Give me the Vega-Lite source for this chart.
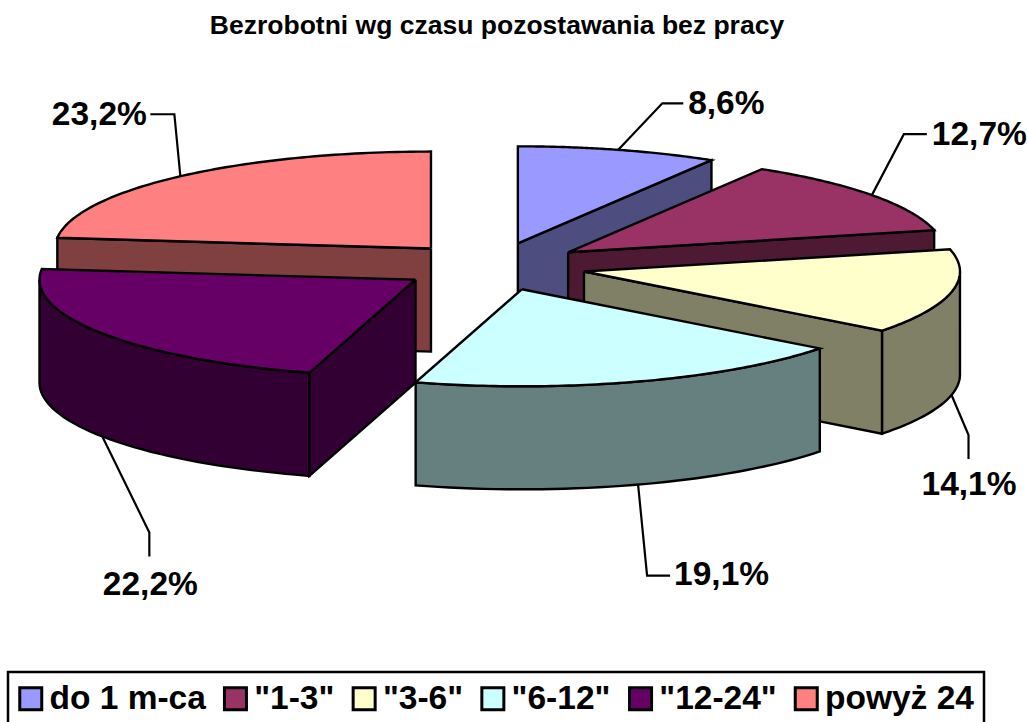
{
"$schema":"https://vega.github.io/schema/vega-lite/v6.json",
"width":1028,"height":722,"padding":0,"autosize":{"type":"none"},
"background":"white",
"title":{"text":"Bezrobotni wg czasu pozostawania bez pracy","font":"Liberation Sans","fontSize":26.5,"fontWeight":"bold","color":"black","anchor":"middle","dx":-17,"offset":-39},
"config":{"view":{"stroke":null},"legend":{"strokeWidth":2.5}},
"data":{"values":[
{"lp":6,"okres":"powyż 24","udzial":23.2},
{"lp":1,"okres":"do 1 m-ca","udzial":8.6},
{"lp":2,"okres":"\"1-3\"","udzial":12.7},
{"lp":5,"okres":"\"12-24\"","udzial":22.2},
{"lp":3,"okres":"\"3-6\"","udzial":14.1},
{"lp":4,"okres":"\"6-12\"","udzial":19.1}
]},
"transform":[
{"joinaggregate":[{"op":"sum","field":"udzial","as":"total"}]},
{"window":[{"op":"sum","field":"udzial","as":"cum"}],"sort":[{"field":"lp","order":"ascending"}]},
{"calculate":"2*PI*(datum.cum-datum.udzial)/datum.total","as":"t0"},
{"calculate":"2*PI*datum.cum/datum.total","as":"t1"},
{"calculate":"(datum.t0+datum.t1)/2","as":"tm"},
{"calculate":"0.2475*sin(datum.tm)","as":"ox"},
{"calculate":"0.2475*cos(datum.tm)","as":"oy"}
],
"layer":[
{"transform":[
{"calculate":"max(datum.t0,PI/2)","as":"ra"},
{"calculate":"min(datum.t1,3*PI/2)","as":"rb"},
{"calculate":"['rim','start','end','top']","as":"face"},
{"flatten":["face"]},
{"filter":"datum.face=='top' || (datum.face=='rim' && datum.ra<datum.rb) || (datum.face=='start' && sin(datum.t0)<-0.000001) || (datum.face=='end' && sin(datum.t1)>0.000001)"},
{"calculate":"sequence(0,82)","as":"k"},
{"flatten":["k"]},
{"calculate":"datum.face=='top' ? ((datum.k==0||datum.k==81)?0:1) : datum.face=='rim' ? 1 : ((datum.k>=21&&datum.k<=60)?1:0)","as":"r"},
{"calculate":"datum.face=='top' ? 0 : ((datum.k>=41&&datum.k<=80)?1:0)","as":"z"},
{"calculate":"datum.face=='top' ? datum.t0+(datum.t1-datum.t0)*clamp((datum.k-1)/79,0,1) : datum.face=='rim' ? (datum.k<=40 ? datum.ra+(datum.rb-datum.ra)*datum.k/40 : datum.k<=80 ? datum.ra+(datum.rb-datum.ra)*(80-datum.k)/39 : datum.ra) : datum.face=='start' ? datum.t0 : datum.t1","as":"t"},
{"calculate":"datum.ox+datum.r*sin(datum.t)","as":"x"},
{"calculate":"datum.oy+datum.r*cos(datum.t)-1.062*datum.z","as":"y"},
{"calculate":"datum.face=='top' ? datum.okres : datum.okres+' bok'","as":"klucz"},
{"calculate":"datum.okres+datum.face","as":"sciana"}
],
"mark":{"type":"line","stroke":"black","strokeWidth":2.4,"strokeJoin":"miter","strokeCap":"butt","clip":false},
"encoding":{
"x":{"field":"x","type":"quantitative","scale":{"domain":[-1.3112,1.4229],"nice":false,"zero":false},"axis":null},
"y":{"field":"y","type":"quantitative","scale":{"domain":[-4.696,2.747],"nice":false,"zero":false},"axis":null},
"order":{"field":"k","type":"quantitative"},
"detail":{"field":"sciana"},
"fill":{"field":"klucz","type":"nominal","scale":{
"domain":["do 1 m-ca","\"1-3\"","\"3-6\"","\"6-12\"","\"12-24\"","powyż 24","do 1 m-ca bok","\"1-3\" bok","\"3-6\" bok","\"6-12\" bok","\"12-24\" bok","powyż 24 bok"],
"range":["#9999FF","#993366","#FFFFCC","#CCFFFF","#660066","#FF8080","#4D4D80","#4D1933","#808066","#668080","#330033","#804040"]},
"legend":{"title":null,"orient":"none","legendX":8,"legendY":672,"direction":"horizontal","columns":6,"gridAlign":"none",
"values":["do 1 m-ca","\"1-3\"","\"3-6\"","\"6-12\"","\"12-24\"","powyż 24"],
"symbolType":"square","symbolSize":484,"symbolStrokeColor":"black","symbolStrokeWidth":3,"symbolOpacity":1,"symbolOffset":-4,
"labelFont":"Liberation Sans","labelFontWeight":"bold","labelFontSize":33.5,"labelColor":"black","labelLimit":300,"labelOffset":2,
"columnPadding":11.7,"strokeColor":"black","padding":10}}
}},
{"transform":[
{"calculate":"[0,1,2]","as":"k"},
{"flatten":["k"]},
{"calculate":"[[[0,0],[44,-46.5],[65,-46.5]],[[0,0],[32,-61],[55,-61]],[[0,0],[17,40],[17,64]],[[0,0],[9,91],[32,91]],[[0,0],[47,96],[47,120]],[[0,0],[-6,-62],[-30,-62]]][datum.lp-1][datum.k]","as":"d"},
{"calculate":"datum.ox+sin(datum.tm)+datum.d[0]/376","as":"x"},
{"calculate":"datum.oy+cos(datum.tm)-(cos(datum.tm)<0?1.062:0)-datum.d[1]/97","as":"y"}
],
"mark":{"type":"line","stroke":"black","strokeWidth":2.2,"strokeJoin":"miter"},
"encoding":{
"x":{"field":"x","type":"quantitative"},
"y":{"field":"y","type":"quantitative"},
"order":{"field":"k","type":"quantitative"},
"detail":{"field":"okres"}
}},
{"transform":[
{"calculate":"[[108,-46],[107.5,-60],[17.5,90.5],[83.5,90.7],[48,148.8],[-81,-61.3]][datum.lp-1]","as":"d"},
{"calculate":"datum.ox+sin(datum.tm)+datum.d[0]/376","as":"x"},
{"calculate":"datum.oy+cos(datum.tm)-(cos(datum.tm)<0?1.062:0)-datum.d[1]/97","as":"y"},
{"calculate":"replace(format(datum.udzial,'.1f'),'.',',')+'%'","as":"etykieta"}
],
"mark":{"type":"text","font":"Liberation Sans","fontWeight":"bold","fontSize":33.5,"color":"black","align":"center","baseline":"middle"},
"encoding":{
"x":{"field":"x","type":"quantitative"},
"y":{"field":"y","type":"quantitative"},
"text":{"field":"etykieta"}
}}
]
}
